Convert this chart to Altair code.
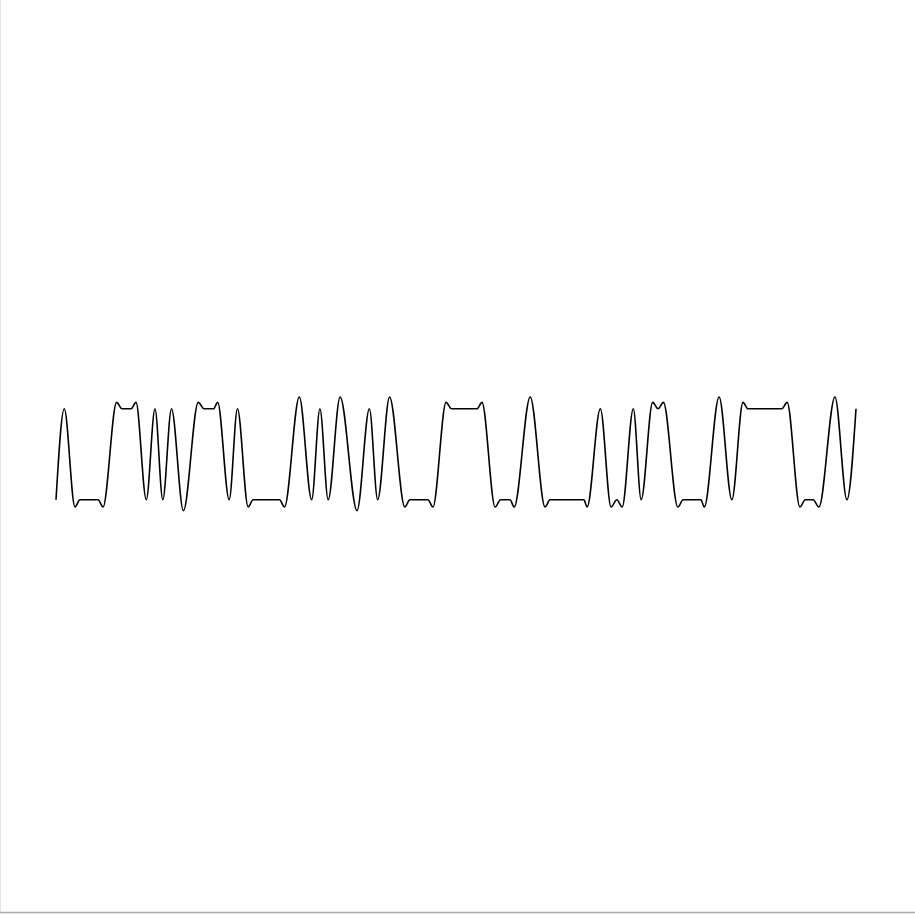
import altair as alt
import pandas as pd

# Key points (time in symbol periods, amplitude):
# symbol centres, peaks, dips and the ends of flat stretches.
t = [0, 1, 2.3, 2.9, 5.1, 5.7, 7.35, 8.0, 9.1, 9.7,
     10.95, 12, 12.95, 14, 15.45, 17.25, 17.95, 19.1, 19.6, 21.0,
     22, 23.3, 23.9, 27.1, 27.7, 29.5, 31.0, 32.0, 33.0, 34.45,
     36.5, 38.0, 39.0, 40.45, 42.3, 42.9, 45.1, 45.7, 47.3, 47.95,
     51.05, 51.65, 53.25, 53.9, 55.05, 55.55, 57.5, 59.3, 59.9, 64.0,
     64.4, 66, 67.3, 68.0, 68.65, 70, 70.95, 72.35, 73.0, 73.65,
     75.4, 76.05, 78.2, 78.6, 80.4, 81.95, 83.3, 83.9, 88.0, 88.65,
     90.2, 90.85, 91.8, 92.5, 94.45, 95.9, 97.0]
v = [0, 1, -0.08, 0, 0, -0.08, 1.07, 1.0, 1.0, 1.07,
     0, 1, 0, 1, -0.12, 1.07, 1.0, 1.0, 1.07, 0,
     1, -0.08, 0, 0, -0.08, 1.13, 0, 1, 0, 1.13,
     -0.12, 1, 0, 1.13, -0.08, 0, 0, -0.08, 1.07, 1.0,
     1.0, 1.07, -0.08, 0, 0, -0.08, 1.13, -0.08, 0, 0,
     -0.08, 1, -0.08, 0, -0.08, 1, 0, 1.07, 1.0, 1.07,
     -0.08, 0, 0, -0.08, 1.13, 0, 1.07, 1.0, 1.0, 1.07,
     -0.08, 0, 0, -0.08, 1.13, 0, 1.0]

df = pd.DataFrame({"t": t, "v": v})

line = alt.Chart(df).mark_line(
    color="black", strokeWidth=1.6, interpolate="monotone"
).encode(
    x=alt.X("t:Q", scale=alt.Scale(domain=[0, 97], nice=False, zero=False), axis=None),
    y=alt.Y("v:Q", scale=alt.Scale(domain=[-4.5, 5], nice=False, zero=False), axis=None),
)

one = pd.DataFrame({"a": [0]})
frame_bottom = alt.Chart(one).mark_rule(color="#a8a8a8", strokeWidth=1.5).encode(
    x=alt.value(-56), x2=alt.value(859), y=alt.value(867.5)
)
frame_left = alt.Chart(one).mark_rule(color="#e4e4e4", strokeWidth=1).encode(
    x=alt.value(-55.5), y=alt.value(-45), y2=alt.value(867)
)

chart = alt.layer(frame_left, frame_bottom, line).properties(
    width=800,
    height=864,
    autosize="none",
    padding={"left": 56, "right": 59, "top": 45, "bottom": 6},
    background="white",
).configure_view(stroke=None)

chart.save("out.html", embed_options={"renderer": "svg", "actions": False})
